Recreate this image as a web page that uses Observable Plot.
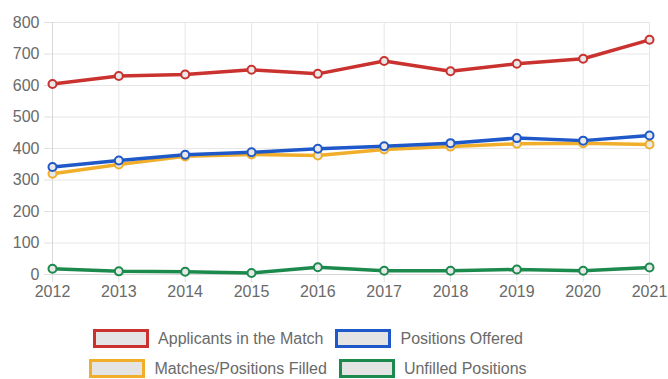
<!DOCTYPE html>
<html>
<head>
<meta charset="utf-8">
<script src="https://cdn.jsdelivr.net/npm/d3@7"></script>
<script src="https://cdn.jsdelivr.net/npm/@observablehq/plot@0.6"></script>
<style>
  html, body { margin: 0; padding: 0; background: #fff; }
  body { width: 668px; height: 379px; overflow: hidden; font-family: "Liberation Sans", Arial, sans-serif; }
  #chart svg { display: block; }
  #legend {
    position: absolute; left: 58px; top: 329px; width: 500px;
    display: flex; flex-wrap: wrap; justify-content: center;
    column-gap: 12px; row-gap: 11px;
    font-size: 16px; color: #6a6a6a;
  }
  .item { display: flex; align-items: center; height: 19px; }
  .box { width: 50px; height: 13px; border: 3px solid; background: #e4e4e4; margin-right: 9px; }
</style>
</head>
<body>
<div id="chart"></div>
<div id="legend"></div>
<script>
const years = [2012, 2013, 2014, 2015, 2016, 2017, 2018, 2019, 2020, 2021];
const applicants = [605, 630, 635, 650, 637, 678, 645, 669, 685, 745];
const offered = [341, 362, 380, 388, 399, 407, 417, 433, 425, 441];
const filled = [320, 349, 375, 381, 378, 397, 406, 415, 417, 413];
const unfilled = [18, 10, 9, 5, 23, 12, 12, 16, 12, 22];
const seriesNames = ["Applicants in the Match", "Positions Offered", "Matches/Positions Filled", "Unfilled Positions"];
const seriesColors = ["#c9322f", "#1f58c8", "#f0ae2a", "#1c8a4d"];
const seriesValues = [applicants, offered, filled, unfilled];
const yTicks = [0, 100, 200, 300, 400, 500, 600, 700, 800];

const rows = [];
for (let s = seriesNames.length - 1; s >= 0; s--) {
  years.forEach((yr, i) => rows.push({series: seriesNames[s], year: yr, value: seriesValues[s][i]}));
}

const color = {domain: seriesNames, range: seriesColors};

const plot = Plot.plot({
  width: 668,
  height: 305,
  marginLeft: 52,
  marginRight: 19,
  marginTop: 22,
  marginBottom: 31,
  style: {fontFamily: "'Liberation Sans', Arial, sans-serif", fontSize: "16px", color: "#666", background: "#fff"},
  x: {domain: [2012, 2021], label: null},
  y: {domain: [0, 800], label: null},
  color,
  marks: [
    Plot.gridY(yTicks, {stroke: "#e6e6e6", strokeOpacity: 1, strokeWidth: 1}),
    Plot.gridX(years, {stroke: "#e6e6e6", strokeOpacity: 1, strokeWidth: 1}),
    Plot.axisY(yTicks, {tickSize: 8, tickPadding: 5, stroke: "#e0e0e0", fill: "#6a6a6a", tickFormat: d => String(d), label: null}),
    Plot.axisX(years, {tickSize: 8, tickPadding: 3, stroke: "#e0e0e0", fill: "#6a6a6a", tickFormat: d => String(d), label: null}),
    Plot.ruleY([0], {stroke: "#d8d8d8"}),
    Plot.ruleX([2012], {stroke: "#d8d8d8"}),
    ...seriesNames.slice().reverse().map(name => Plot.line(rows.filter(r => r.series === name), {
      x: "year", y: "value", stroke: "series", strokeWidth: 3.5
    })),
    ...seriesNames.slice().reverse().map(name => Plot.dot(rows.filter(r => r.series === name), {
      x: "year", y: "value", stroke: "series", fill: "#e8e8e8", r: 4, strokeWidth: 2
    }))
  ]
});
document.getElementById("chart").appendChild(plot);

const legend = document.getElementById("legend");
seriesNames.forEach((name, i) => {
  const item = document.createElement("div");
  item.className = "item";
  const box = document.createElement("span");
  box.className = "box";
  box.style.borderColor = seriesColors[i];
  const label = document.createElement("span");
  label.textContent = name;
  item.appendChild(box);
  item.appendChild(label);
  legend.appendChild(item);
});
</script>
</body>
</html>
